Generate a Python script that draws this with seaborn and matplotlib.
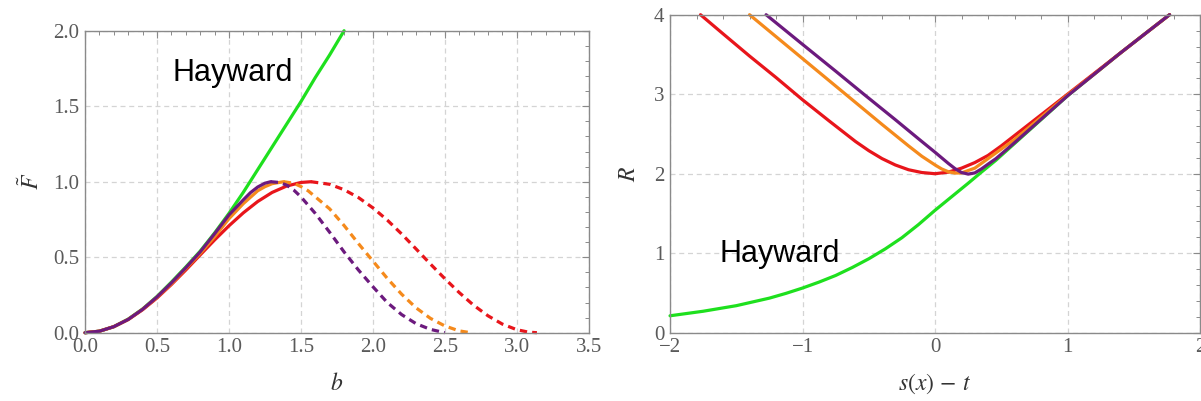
import numpy as np
import pandas as pd
import matplotlib
matplotlib.use("Agg")
import matplotlib.pyplot as plt
from matplotlib.ticker import MultipleLocator, FormatStrFormatter
import seaborn as sns

# ---------------- Left panel data (b, F~) ----------------
b_green = [0.0, 0.1, 0.2, 0.3, 0.4, 0.5, 0.6, 0.7, 0.8, 0.9, 1.0, 1.1, 1.2, 1.3, 1.4, 1.5, 1.6, 1.7, 1.8]
F_green = [0.0, 0.01, 0.04, 0.09, 0.157, 0.24, 0.335, 0.435, 0.54, 0.66, 0.79, 0.93, 1.08, 1.23, 1.38, 1.53, 1.69, 1.84, 2.0]

b_red_solid = [0.0, 0.1, 0.2, 0.3, 0.4, 0.5, 0.6, 0.7, 0.8, 0.9, 1.0, 1.1, 1.2, 1.3, 1.4, 1.5, 1.57]
F_red_solid = [0.0, 0.01, 0.04, 0.087, 0.152, 0.23, 0.319, 0.415, 0.515, 0.614, 0.708, 0.794, 0.869, 0.929, 0.971, 0.995, 1.0]
b_red_dash = [1.57, 1.7, 1.8, 1.9, 2.0, 2.1, 2.2, 2.3, 2.4, 2.5, 2.6, 2.7, 2.8, 2.9, 3.0, 3.08, 3.14]
F_red_dash = [1.0, 0.983, 0.947, 0.895, 0.827, 0.746, 0.654, 0.555, 0.455, 0.358, 0.266, 0.182, 0.112, 0.057, 0.02, 0.004, 0.0]

b_orange_solid = [0.0, 0.1, 0.2, 0.3, 0.4, 0.5, 0.6, 0.7, 0.8, 0.9, 1.0, 1.1, 1.2, 1.25, 1.3, 1.38]
F_orange_solid = [0.0, 0.01, 0.04, 0.088, 0.155, 0.235, 0.325, 0.425, 0.525, 0.635, 0.755, 0.855, 0.94, 0.967, 0.987, 1.0]
b_orange_dash = [1.38, 1.45, 1.5, 1.55, 1.6, 1.7, 1.8, 1.9, 2.0, 2.1, 2.2, 2.3, 2.4, 2.5, 2.6, 2.68]
F_orange_dash = [1.0, 0.99, 0.968, 0.94, 0.9, 0.82, 0.71, 0.59, 0.475, 0.36, 0.255, 0.165, 0.095, 0.045, 0.012, 0.0]

b_purple_solid = [0.0, 0.1, 0.2, 0.3, 0.4, 0.5, 0.6, 0.7, 0.8, 0.9, 1.0, 1.1, 1.15, 1.2, 1.25, 1.29]
F_purple_solid = [0.0, 0.01, 0.04, 0.088, 0.155, 0.237, 0.33, 0.43, 0.535, 0.655, 0.78, 0.88, 0.928, 0.965, 0.99, 1.0]
b_purple_dash = [1.29, 1.35, 1.4, 1.45, 1.5, 1.6, 1.7, 1.8, 1.9, 2.0, 2.1, 2.2, 2.3, 2.4, 2.5]
F_purple_dash = [1.0, 0.995, 0.978, 0.945, 0.9, 0.79, 0.665, 0.535, 0.415, 0.305, 0.2, 0.12, 0.06, 0.022, 0.0]

# ---------------- Right panel data (s(x)-t, R) ----------------
s_green = [-2.0, -1.75, -1.5, -1.25, -1.125, -1.0, -0.875, -0.75, -0.625, -0.5, -0.375, -0.25, -0.125,
           0.0, 0.125, 0.25, 0.35, 0.46, 0.6, 0.8, 1.0, 1.2, 1.4, 1.6, 1.77]
R_green = [0.213, 0.27, 0.34, 0.435, 0.495, 0.562, 0.637, 0.72, 0.82, 0.93, 1.055, 1.195, 1.36,
           1.54, 1.71, 1.88, 2.02, 2.17, 2.38, 2.68, 2.98, 3.25, 3.52, 3.78, 4.0]

s_red = [-1.77, -1.6, -1.4, -1.2, -1.0, -0.8, -0.7, -0.6, -0.5, -0.4, -0.3, -0.2, -0.1, 0.0, 0.1, 0.2, 0.3, 0.4, 0.5, 0.6, 0.8, 1.0, 1.2, 1.4, 1.6, 1.77]
R_red = [4.0, 3.76, 3.48, 3.21, 2.93, 2.665, 2.535, 2.405, 2.29, 2.19, 2.11, 2.05, 2.015, 2.0, 2.02, 2.07, 2.14, 2.23, 2.35, 2.48, 2.74, 3.0, 3.26, 3.52, 3.78, 4.0]

s_orange = [-1.4, -1.2, -1.0, -0.8, -0.6, -0.4, -0.2, -0.1, 0.0, 0.05, 0.1, 0.15, 0.2, 0.3, 0.4, 0.6, 0.8, 1.0, 1.2, 1.4, 1.6, 1.77]
R_orange = [4.0, 3.724, 3.448, 3.172, 2.896, 2.62, 2.35, 2.22, 2.11, 2.06, 2.025, 2.008, 2.01, 2.07, 2.19, 2.43, 2.71, 2.99, 3.25, 3.52, 3.78, 4.0]

s_purple = [-1.275, -1.0, -0.75, -0.5375, -0.3, -0.118, 0.0, 0.05, 0.1, 0.15, 0.2, 0.25, 0.3, 0.35, 0.4, 0.46, 0.6, 0.8, 1.0, 1.2, 1.4, 1.6, 1.77]
R_purple = [4.0, 3.627, 3.29, 3.0, 2.68, 2.43, 2.27, 2.20, 2.13, 2.065, 2.015, 1.995, 2.01, 2.06, 2.12, 2.19, 2.39, 2.685, 2.98, 3.25, 3.52, 3.78, 4.0]

x_ticks_left = [0.0, 0.5, 1.0, 1.5, 2.0, 2.5, 3.0, 3.5]
y_ticks_left = [0.0, 0.5, 1.0, 1.5, 2.0]
x_ticks_right = [-2, -1, 0, 1, 2]
y_ticks_right = [0, 1, 2, 3, 4]

annotation = "Hayward"

# ---------------- Styling ----------------
sns.set_theme(style="white")
plt.rcParams["font.family"] = ["Liberation Serif", "DejaVu Serif"]
plt.rcParams["mathtext.fontset"] = "stix"

C_GREEN = "#1ee01e"
C_RED = "#e8151b"
C_ORANGE = "#f58a1c"
C_PURPLE = "#6c1a7e"
LW = 2.3
DASH = (0, (2.3, 1.6))

fig = plt.figure(figsize=(12.01, 4.01), dpi=100)
ax1 = fig.add_axes([0.0708, 0.1703, 0.4194, 0.7531])
ax2 = fig.add_axes([0.5579, 0.1703, 0.4413, 0.7930])


def draw(ax, x, y, color, ls="-"):
    df = pd.DataFrame({"x": x, "y": y})
    sns.lineplot(data=df, x="x", y="y", ax=ax, color=color, linewidth=LW,
                 linestyle=ls, sort=False, estimator=None, clip_on=False,
                 solid_capstyle="round", solid_joinstyle="round",
                 dash_capstyle="butt")


# Left panel
draw(ax1, b_green, F_green, C_GREEN)
draw(ax1, b_red_solid, F_red_solid, C_RED)
draw(ax1, b_red_dash, F_red_dash, C_RED, DASH)
draw(ax1, b_orange_solid, F_orange_solid, C_ORANGE)
draw(ax1, b_orange_dash, F_orange_dash, C_ORANGE, DASH)
draw(ax1, b_purple_solid, F_purple_solid, C_PURPLE)
draw(ax1, b_purple_dash, F_purple_dash, C_PURPLE, DASH)

# Right panel
draw(ax2, s_green, R_green, C_GREEN)
draw(ax2, s_red, R_red, C_RED)
draw(ax2, s_orange, R_orange, C_ORANGE)
draw(ax2, s_purple, R_purple, C_PURPLE)


def style_axes(ax, xt, yt, xminor, yminor, xlim, ylim, fmt):
    ax.set_xlim(*xlim)
    ax.set_ylim(*ylim)
    ax.set_xticks(xt)
    ax.set_yticks(yt)
    ax.xaxis.set_minor_locator(MultipleLocator(xminor))
    ax.yaxis.set_minor_locator(MultipleLocator(yminor))
    if fmt is not None:
        ax.xaxis.set_major_formatter(FormatStrFormatter(fmt))
        ax.yaxis.set_major_formatter(FormatStrFormatter(fmt))
    ax.grid(True, which="major", color="#d4d4d4", linestyle=(0, (4, 3)), linewidth=0.9)
    ax.set_axisbelow(True)
    for sp in ax.spines.values():
        sp.set_visible(True)
        sp.set_color("#8a8a8a")
        sp.set_linewidth(1.0)
    ax.tick_params(which="both", direction="in", top=True, right=True,
                   color="#8a8a8a", labelcolor="#5a5a5a", labelsize=15, pad=4)
    ax.tick_params(which="major", length=5, width=0.8)
    ax.tick_params(which="minor", length=2.8, width=0.7)


style_axes(ax1, x_ticks_left, y_ticks_left, 0.1, 0.1, (0, 3.5), (0, 2.0), "%.1f")
style_axes(ax2, x_ticks_right, y_ticks_right, 0.2, 0.2, (-2, 2), (0, 4), None)

ax1.set_xlabel(r"$b$", fontsize=17, color="#333333", labelpad=11)
ax1.set_ylabel(r"$\tilde{F}$", fontsize=17, color="#333333", labelpad=7)
ax2.set_xlabel(r"$s(x)\,-\,t$", fontsize=17, color="#333333", labelpad=10)
ax2.set_ylabel(r"$R$", fontsize=17, color="#333333", labelpad=10)

ax1.text(0.61, 1.667, annotation, fontsize=22, family="Liberation Sans",
         color="black", ha="left", va="baseline")
ax2.text(-1.63, 0.893, annotation, fontsize=22, family="Liberation Sans",
         color="black", ha="left", va="baseline")

fig.savefig("out.png", dpi=100)
